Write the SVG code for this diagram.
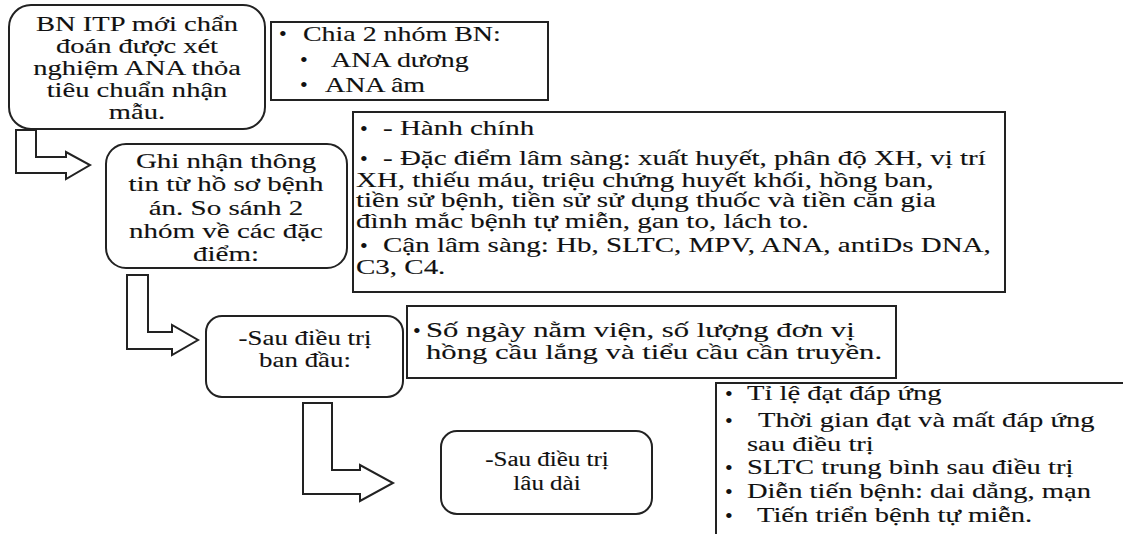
<svg xmlns="http://www.w3.org/2000/svg" width="1123" height="534" viewBox="0 0 1123 534">
<style>
  .rb{fill:#fff;stroke:#222;stroke-width:2}
  .bx{fill:#fff;stroke:#222;stroke-width:2}
  .ar{fill:#fff;stroke:#222;stroke-width:2;stroke-linejoin:miter}
  text{font-family:"Liberation Serif","Times New Roman","DejaVu Serif",serif;fill:#111;stroke:#111;stroke-width:0.12}
  .c{text-anchor:middle}
  .f22{font-size:22px}
  .f21{font-size:21px}
  .f20{font-size:20px}
  .bl{font-size:22px}
</style>
<rect width="1123" height="534" fill="#fff"/>
<g id="connectors">
  <polygon class="ar" points="16,130 36,130 36,157 66,157 66,152 90,165 66,179 66,173 16,173"/>
  <polygon class="ar" points="127,275 148,275 148,332 172,332 172,325 198,340 172,355 172,349 127,349"/>
  <polygon class="ar" points="303,403 332,403 332,470 360,470 360,465 393,483 360,501 360,494 303,494"/>
</g>
<g id="n1">
  <rect class="rb" x="9" y="5" width="256" height="124" rx="22"/>
  <text class="c f21" transform="translate(137,31) scale(1.36,1)">BN ITP mới chẩn</text>
  <text class="c f21" transform="translate(137,53) scale(1.36,1)">đoán được xét</text>
  <text class="c f21" transform="translate(137,75) scale(1.36,1)">nghiệm ANA thỏa</text>
  <text class="c f21" transform="translate(137,97) scale(1.36,1)">tiêu chuẩn nhận</text>
  <text class="c f21" transform="translate(137,119) scale(1.36,1)">mẫu.</text>
</g>
<g id="n2">
  <rect class="bx" x="271" y="22" width="277" height="78"/>
  <text class="bl" x="279" y="41">•</text>
  <text class="f21" transform="translate(303,41) scale(1.33,1)">Chia 2 nhóm BN:</text>
  <text class="bl" x="300" y="67">•</text>
  <text class="f21" transform="translate(331,67) scale(1.33,1)">ANA dương</text>
  <text class="bl" x="300" y="92">•</text>
  <text class="f21" transform="translate(325,92) scale(1.33,1)">ANA âm</text>
</g>
<g id="n3">
  <rect class="rb" x="106" y="144" width="241" height="124" rx="20"/>
  <text class="c f21" transform="translate(226,168) scale(1.38,1)">Ghi nhận thông</text>
  <text class="c f21" transform="translate(226,191) scale(1.38,1)">tin từ hồ sơ bệnh</text>
  <text class="c f21" transform="translate(226,215) scale(1.38,1)">án. So sánh 2</text>
  <text class="c f21" transform="translate(226,238) scale(1.38,1)">nhóm về các đặc</text>
  <text class="c f21" transform="translate(226,261) scale(1.38,1)">điểm:</text>
</g>
<g id="n4">
  <rect class="bx" x="353" y="112" width="652" height="180"/>
  <text class="bl" x="360" y="136">•</text>
  <text class="f20" transform="translate(383,135) scale(1.45,1)">- Hành chính</text>
  <text class="bl" x="360" y="166">•</text>
  <text class="f20" transform="translate(383,165) scale(1.45,1)">- Đặc điểm lâm sàng: xuất huyết, phân độ XH, vị trí</text>
  <text class="f20" transform="translate(356,187) scale(1.45,1)">XH, thiếu máu, triệu chứng huyết khối, hồng ban,</text>
  <text class="f20" transform="translate(356,207) scale(1.45,1)">tiền sử bệnh, tiền sử sử dụng thuốc và tiền căn gia</text>
  <text class="f20" transform="translate(356,228) scale(1.45,1)">đình mắc bệnh tự miễn, gan to, lách to.</text>
  <text class="bl" x="360" y="253">•</text>
  <text class="f20" transform="translate(383,252) scale(1.45,1)">Cận lâm sàng: Hb, SLTC, MPV, ANA, antiDs DNA,</text>
  <text class="f20" transform="translate(356,274) scale(1.45,1)">C3, C4.</text>
</g>
<g id="n5">
  <rect class="rb" x="206" y="316" width="197" height="81" rx="16"/>
  <text class="c f21" transform="translate(305,345) scale(1.28,1)">-Sau điều trị</text>
  <text class="c f21" transform="translate(305,367) scale(1.28,1)">ban đầu:</text>
</g>
<g id="n6">
  <rect class="bx" x="407" y="306" width="489" height="72"/>
  <text class="bl" x="413" y="338">•</text>
  <text class="f21" transform="translate(426,337) scale(1.46,1)">Số ngày nằm viện, số lượng đơn vị</text>
  <text class="f21" transform="translate(426,359) scale(1.46,1)">hồng cầu lắng và tiểu cầu cần truyền.</text>
</g>
<g id="n7">
  <rect class="rb" x="441" y="431" width="211" height="83" rx="16"/>
  <text class="c f20" transform="translate(547,466) scale(1.25,1)">-Sau điều trị</text>
  <text class="c f20" transform="translate(547,490) scale(1.25,1)">lâu dài</text>
</g>
<g id="n8">
  <rect class="bx" x="716" y="383" width="420" height="170"/>
  <text class="bl" x="725" y="401">•</text>
  <text class="f21" transform="translate(747,400) scale(1.36,1)">Tỉ lệ đạt đáp ứng</text>
  <text class="bl" x="725" y="428">•</text>
  <text class="f21" transform="translate(758,427) scale(1.36,1)">Thời gian đạt và mất đáp ứng</text>
  <text class="f21" transform="translate(747,451) scale(1.36,1)">sau điều trị</text>
  <text class="bl" x="725" y="475">•</text>
  <text class="f21" transform="translate(747,474) scale(1.36,1)">SLTC trung bình sau điều trị</text>
  <text class="bl" x="725" y="499">•</text>
  <text class="f21" transform="translate(747,498) scale(1.36,1)">Diễn tiến bệnh: dai dẳng, mạn</text>
  <text class="bl" x="725" y="523">•</text>
  <text class="f21" transform="translate(757,522) scale(1.36,1)">Tiến triển bệnh tự miễn.</text>
</g>
</svg>
